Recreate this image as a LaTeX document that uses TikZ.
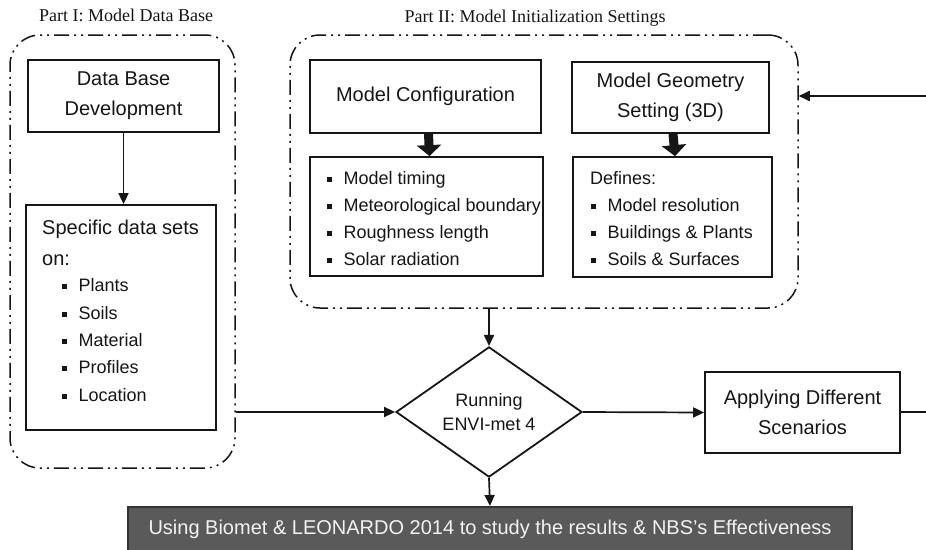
\documentclass[tikz,border=0pt]{standalone}
\usepackage{fontspec}
\setmainfont{Liberation Sans}
\newfontfamily\titlefont{Liberation Serif}
\usetikzlibrary{arrows.meta,shapes.geometric,calc}
\definecolor{ink}{HTML}{161616}
\definecolor{boxgray}{HTML}{5A5A5A}
\newcommand\sqb{\makebox[17pt][l]{\rule[2.2pt]{5.5pt}{5.5pt}}}
\begin{document}
\begin{tikzpicture}[x=1pt,y=-1pt,
  box/.style={draw=ink, line width=1.8pt, rectangle, inner sep=0pt, text=ink,
    font=\fontsize{20}{30}\selectfont, align=center},
  frame/.style={draw=ink, line width=1.5pt, rectangle, rounded corners=30pt, inner sep=0pt,
    dash pattern=on 15pt off 5pt on 2pt off 5pt on 2pt off 5pt},
  item/.style={anchor=base west, inner sep=0pt, text=ink, font=\fontsize{18}{22}\selectfont},
  bigitem/.style={anchor=base west, inner sep=0pt, text=ink, font=\fontsize{20}{24}\selectfont},
  arr/.style={draw=ink, line width=1.7pt, -{Triangle[width=10pt,length=11pt]}},
  blockarr/.style={draw=ink, line width=9pt, -{Triangle[width=24pt,length=11pt]}},
  ttl/.style={font=\titlefont\fontsize{18}{20}\selectfont, text=ink, inner sep=0pt}
]
\clip (0,0) rectangle (926,549);
\fill[white] (0,0) rectangle (926,549);

% titles
\node[ttl] (t1) at (126,15) {Part I: Model Data Base};
\node[ttl] (t2) at (535,18) {Part II: Model Initialization Settings};

% frames
\node[frame, minimum width=225pt, minimum height=433pt] (part1) at (122.5,251.5) {};
\node[frame, minimum width=508pt, minimum height=273pt] (part2) at (544,171.5) {};

% Part I
\node[box, minimum width=191pt, minimum height=72pt] (dbdev) at (123.5,96) {Data Base\\Development};
\node[box, minimum width=190pt, minimum height=225pt] (spec) at (121,317.5) {};
\node[bigitem] (sp1) at (42,234) {Specific data sets};
\node[bigitem] (sp2) at (42,265) {on:};
\node[item] (sp3) at (61.5,291.5) {\sqb Plants};
\node[item] (sp4) at (61.5,319.5) {\sqb Soils};
\node[item] (sp5) at (61.5,346.5) {\sqb Material};
\node[item] (sp6) at (61.5,373.5) {\sqb Profiles};
\node[item] (sp7) at (61.5,401.5) {\sqb Location};

% Part II
\node[box, minimum width=231pt, minimum height=73pt] (mconf) at (425.5,96.5) {Model Configuration};
\node[box, minimum width=233pt, minimum height=119pt] (mcl) at (426.5,216.5) {};
\node[item] (mc1) at (326.5,184.5) {\sqb Model timing};
\node[item] (mc2) at (326.5,211.5) {\sqb Meteorological boundary};
\node[item] (mc3) at (326.5,238.5) {\sqb Roughness length};
\node[item] (mc4) at (326.5,265.5) {\sqb Solar radiation};

\node[box, minimum width=197pt, minimum height=71pt] (geo) at (670.5,97.5) {Model Geometry\\Setting (3D)};
\node[box, minimum width=199pt, minimum height=120pt] (defs) at (672.5,217) {};
\node[item] (df1) at (590,184.5) {Defines:};
\node[item] (df2) at (590.5,211.5) {\sqb Model resolution};
\node[item] (df3) at (590.5,238.5) {\sqb Buildings \& Plants};
\node[item] (df4) at (590.5,265.5) {\sqb Soils \& Surfaces};

% lower row
\node[draw=ink, line width=1.8pt, diamond, inner sep=0pt, minimum width=186pt, minimum height=127pt,
  text=ink, align=center, font=\fontsize{18}{24}\selectfont] (run) at (489,412) {Running\\ENVI-met 4};
\node[box, minimum width=195pt, minimum height=81pt] (apply) at (802.5,412.5) {Applying Different\\Scenarios};
\node[draw=black!80, line width=2pt, fill=boxgray, text=white!95!black, inner sep=0pt,
  minimum width=724pt, minimum height=45pt, font=\fontsize{20}{24}\selectfont] (res) at (490,529.5)
  {Using Biomet \& LEONARDO 2014 to study the results \& NBS’s Effectiveness};

% connectors
\draw[arr] (dbdev.south) -- (dbdev.south |- spec.north);
\draw[blockarr] ($(mconf.south)+(3,0)$) -- ($(mcl.north)+(3,0)$);
\draw[blockarr] ($(geo.south)+(2.5,0)$) -- ($(defs.north)+(2.5,0)$);
\draw[arr] (run.north |- part2.south) -- (run.north);
\draw[arr] (part1.east |- run.west) -- (run.west);
\draw[arr] (run.east) -- (apply.west);
\draw[arr] (run.south) -- (res.north);
\coordinate (rout) at (926,412);
\coordinate (rin) at (926,96);
\draw[draw=ink, line width=1.7pt] (apply.east |- rout) -- (rout);
\draw[arr] (rin) -- (part2.east |- rin);
\end{tikzpicture}
\end{document}
